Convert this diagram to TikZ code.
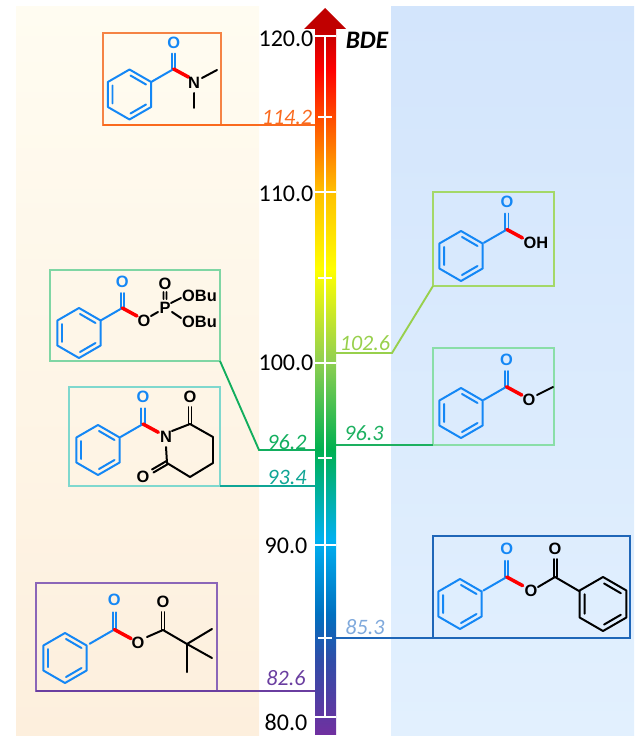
\documentclass[tikz,border=0pt]{standalone}
\usepackage{fontspec}
\setmainfont{Carlito}
\newfontfamily\atomfont{Liberation Sans}

\definecolor{bondblue}{HTML}{1487F5}
\definecolor{bondred}{HTML}{FF0000}
\definecolor{amideline}{HTML}{FA6A1E}
\definecolor{amidebox}{HTML}{F58345}
\definecolor{phosline}{HTML}{12AE5E}
\definecolor{phosbox}{HTML}{7FD6A4}
\definecolor{imideline}{HTML}{0FA595}
\definecolor{imidebox}{HTML}{7FD8CE}
\definecolor{pivline}{HTML}{6A3EA0}
\definecolor{pivbox}{HTML}{8B66B8}
\definecolor{acidline}{HTML}{98D04C}
\definecolor{acidbox}{HTML}{A4D868}
\definecolor{esterline}{HTML}{1DB060}
\definecolor{esterbox}{HTML}{8ADEA8}
\definecolor{anhline}{HTML}{1F66B8}
\definecolor{anhtext}{HTML}{7FA9DC}
\definecolor{violetbar}{HTML}{7030A0}
\definecolor{indigobar}{HTML}{2F4DA8}
\definecolor{bluebar}{HTML}{0070C0}
\definecolor{cyanbar}{HTML}{00B0F0}
\definecolor{greenbar}{HTML}{00B050}
\definecolor{limebar}{HTML}{92D050}
\definecolor{yellowbar}{HTML}{FFFF00}
\definecolor{amberbar}{HTML}{FFC000}
\definecolor{redbar}{HTML}{FF0000}
\definecolor{darkredbar}{HTML}{C00000}
\definecolor{lefttop}{HTML}{FFFCF1}
\definecolor{leftbot}{HTML}{FDEFDD}
\definecolor{righttop}{HTML}{D3E5FC}
\definecolor{rightbot}{HTML}{E2F0FE}

\pgfdeclareverticalshading{bdebar}{100bp}{
  color(0bp)=(violetbar); color(25bp)=(violetbar);
  color(30.3bp)=(indigobar); color(33.5bp)=(bluebar); color(38.8bp)=(cyanbar);
  color(45.18bp)=(greenbar); color(51.56bp)=(limebar); color(57.93bp)=(yellowbar);
  color(63.46bp)=(amberbar); color(72.1bp)=(redbar); color(75bp)=(darkredbar);
  color(100bp)=(darkredbar)}

\tikzset{
  bond/.style={line width=1.7pt, line cap=round, line join=round},
  redbond/.style={line width=3pt, bondred},
  atom/.style={font=\atomfont\bfseries\fontsize{14}{15}\selectfont, inner sep=0pt},
  scalelabel/.style={font=\fontsize{20.5}{21}\selectfont, inner sep=0pt},
  bdelabel/.style={font=\itshape\fontsize{18.8}{20}\selectfont, inner sep=0pt},
  benzene/.pic={
    \draw[bond] (0,-25)--(21.65,-12.5)--(21.65,12.5)--(0,25)--(-21.65,12.5)--(-21.65,-12.5)--cycle;
    \draw[bond] (1,-19)--(16.5,-10) (-17,-9)--(-17,9) (16.5,10)--(1,19);
  },
  benzoyl/.pic={
    \pic[bondblue] {benzene};
    \draw[bond,bondblue] (21.65,-12.5)--(43.3,-25);
    \draw[bond,bondblue] (41.8,-25)--(41.8,-40) (44.8,-25)--(44.8,-40);
    \draw[redbond,line cap=round] (43.3,-25)--(58,-17);
    \node[atom,bondblue] (-oxo) at (43.3,-51) {O};
  }
}

\begin{document}
\begin{tikzpicture}[x=.03cm, y=-.03cm]
  \useasboundingbox (0,0) rectangle (640,739);

  % panels
  \shade[top color=lefttop, bottom color=leftbot] (16,7) rectangle (259,735);
  \shade[top color=righttop, bottom color=rightbot] (391,7) rectangle (634,735);

  % scale bar
  \coordinate (TIP) at (325,8);
  \coordinate (HL) at (304,29);
  \coordinate (HR) at (346,29);
  \shade[shading=bdebar] (315,29) rectangle (336,734);
  \fill[darkredbar] (HL)--(TIP)--(HR)--cycle;
  \draw[white,line width=1.5pt] (325,36)--(325,717);
  \draw[white,line width=1.5pt] (315,36)--(336,36) (315,192)--(336,192) (315,363)--(336,363)
    (315,545)--(336,545) (315,717)--(336,717);
  \draw[white,line width=1.5pt] (318,117)--(332,117) (318,278)--(332,278) (318,458)--(332,458) (318,638)--(332,638);

  \node[scalelabel] (v120) at (286,39) {120.0};
  \node[scalelabel] (v110) at (286,194) {110.0};
  \node[scalelabel] (v100) at (286,363) {100.0};
  \node[scalelabel] (v90) at (286,546) {90.0};
  \node[scalelabel] (v80) at (286,722) {80.0};
  \node[font=\bfseries\itshape\fontsize{21.5}{22}\selectfont, inner sep=0pt] (bde) at (367,40) {BDE};

  % boxes and leaders
  \coordinate (AM1) at (103,125);
  \coordinate (AM2) at (221,125);
  \coordinate (AM3) at (315,125);
  \draw[amidebox,line width=1.3pt] (AM1) rectangle (221,33);
  \draw[amideline,line width=1.9pt] (AM1)--(AM2)--(AM3);

  \coordinate (PH1) at (220,361);
  \coordinate (PH2) at (259,450);
  \coordinate (PH3) at (315,450);
  \draw[phosbox,line width=1.3pt] (50,270) rectangle (PH1);
  \draw[phosline,line width=1.6pt] (PH1)--(PH2)--(PH3);

  \coordinate (IM1) at (220,486);
  \coordinate (IM2) at (315,486);
  \draw[imidebox,line width=1.3pt] (69,387) rectangle (IM1);
  \draw[imideline,line width=1.6pt] (IM1)--(IM2);

  \coordinate (PV1) at (36,691);
  \coordinate (PV2) at (315,691);
  \draw[pivbox,line width=1.3pt] (PV1) rectangle (217,583);
  \draw[pivline,line width=1.9pt] (PV1)--(PV2);

  \coordinate (AC1) at (433,286);
  \coordinate (AC2) at (392,353);
  \coordinate (AC3) at (336,353);
  \draw[acidbox,line width=1.3pt] (AC1) rectangle (554,192);
  \draw[acidline,line width=1.6pt] (AC1)--(AC2)--(AC3);

  \coordinate (ES1) at (433,445);
  \coordinate (ES2) at (336,445);
  \draw[esterbox,line width=1.3pt] (ES1) rectangle (554,348);
  \draw[esterline,line width=1.7pt] (ES1)--(ES2);

  \coordinate (AN1) at (630,638);
  \coordinate (AN2) at (336,638);
  \draw[anhline,line width=1.3pt] (433,536) rectangle (AN1);
  \draw[anhline,line width=1.9pt] (AN1)--(AN2);

  \node[bdelabel,amideline] (l114) at (287,117) {114.2};
  \node[bdelabel,phosline] (l962) at (287,442) {96.2};
  \node[bdelabel,imideline] (l934) at (287,477) {93.4};
  \node[bdelabel,pivline] (l826) at (286,678) {82.6};
  \node[bdelabel,acidline] (l1026) at (365,343) {102.6};
  \node[bdelabel,esterline] (l963) at (364,433) {96.3};
  \node[bdelabel,anhtext] (l853) at (365,627) {85.3};

  % amide
  \pic[scale=1.02] (amide) at (129.5,94.5) {benzoyl};
  \node[atom] (amideN) at (194,83) {N};
  \draw[bond] (202,78)--(217,70) (194,93)--(194,108);

  % acyl phosphate
  \pic[scale=1] (phos) at (79,333) {benzoyl};
  \node[atom] (phosO) at (144,321) {O};
  \node[atom] (phosP) at (165,308) {P};
  \node[atom] (phosOx) at (165,284) {O};
  \node[atom,anchor=west] (phosBuA) at (182,296) {OBu};
  \node[atom,anchor=west] (phosBuB) at (182,322) {OBu};
  \draw[bond] (151,316)--(158,312) (163.5,299)--(163.5,292) (166.5,299)--(166.5,292)
    (171,303)--(181,298) (172,312)--(181,318);

  % imide
  \pic[scale=1.04] (imide) at (98,450) {benzoyl};
  \node[atom] (imideN) at (166,437) {N};
  \node[atom] (imideOa) at (190,397) {O};
  \node[atom] (imideOb) at (143,477) {O};
  \draw[bond] (172,431)--(190,424)--(213,437)--(213,463)--(190,477)--(167,463)--(166,447);
  \draw[bond] (188.5,424)--(188.5,407) (191.5,424)--(191.5,407);
  \draw[bond] (166.5,461)--(152,469.5) (168,464)--(153.5,472.5);

  % pivalate
  \pic[scale=1.14] (piv) at (65,658) {benzoyl};
  \node[atom] (pivO) at (138,643) {O};
  \node[atom] (pivOx) at (163,602) {O};
  \draw[bond] (147,637)--(163,630)--(187,644)--(212,629) (187,644)--(212,658) (187,644)--(187,672);
  \draw[bond] (161.5,630)--(161.5,612) (164.5,630)--(164.5,612);

  % acid
  \pic[scale=1.06] (acid) at (461,256) {benzoyl};
  \node[atom] (acidOH) at (536,243) {OH};

  % ester
  \pic[scale=1.05] (ester) at (461,413) {benzoyl};
  \node[atom] (esterO) at (529,400) {O};
  \draw[bond] (537,395)--(553,387);

  % anhydride
  \pic[scale=1.08] (anh) at (460,604) {benzoyl};
  \node[atom] (anhO) at (531,591) {O};
  \node[atom] (anhOx) at (555,549) {O};
  \draw[bond] (538,587)--(555,577)--(579,591);
  \draw[bond] (553.5,577)--(553.5,559) (556.5,577)--(556.5,559);
  \pic[scale=1.08] (anhring) at (603,604) {benzene};
\end{tikzpicture}
\end{document}
